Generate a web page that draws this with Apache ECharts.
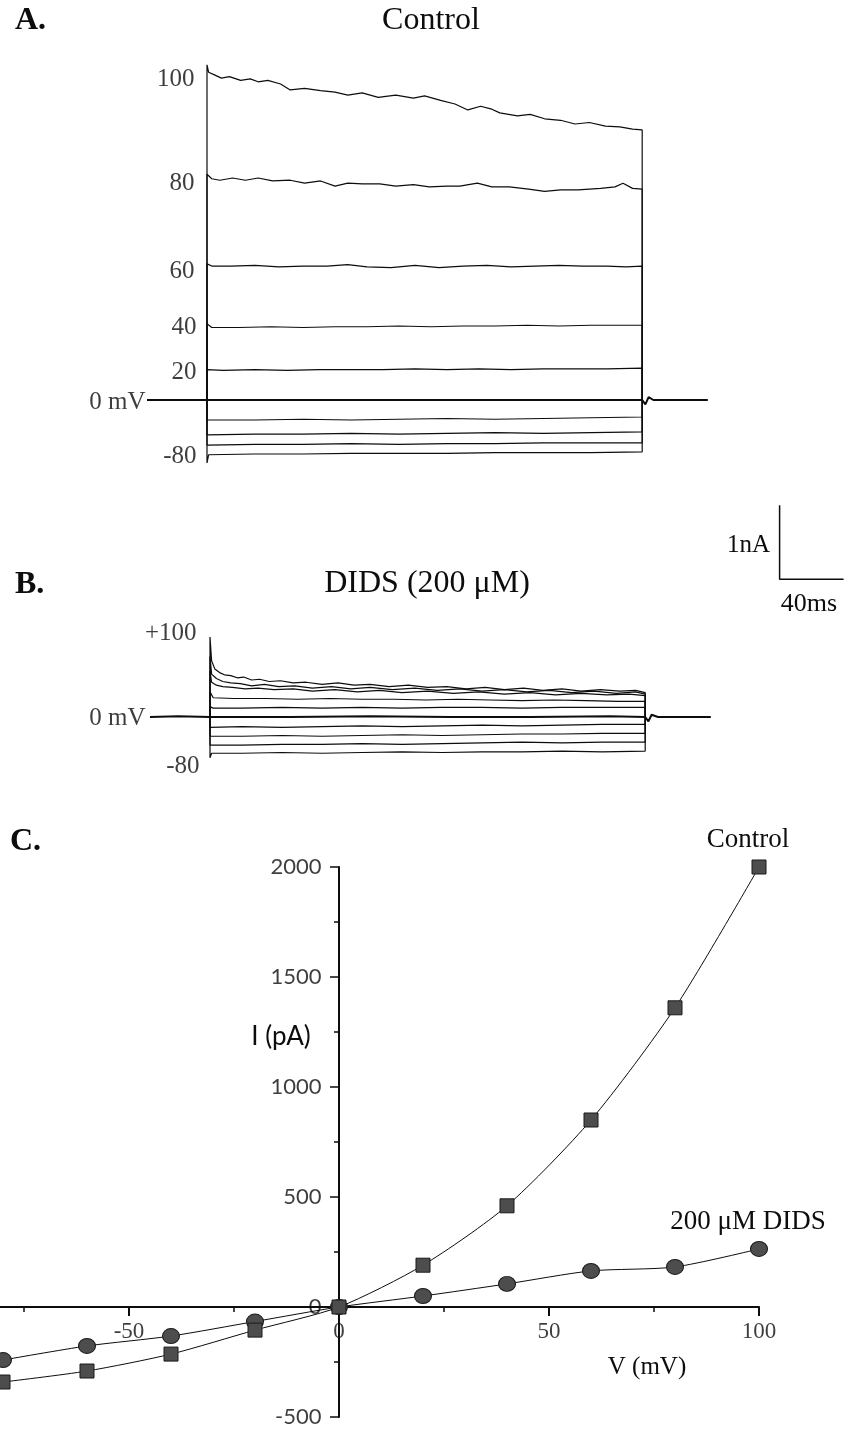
<!DOCTYPE html>
<html>
<head>
<meta charset="utf-8">
<script src="https://cdn.jsdelivr.net/npm/echarts@6/dist/echarts.min.js"></script>
<style>
  html, body { margin: 0; padding: 0; background: #fff; }
  #fig { width: 844px; height: 1431px; }
</style>
</head>
<body>
<div id="fig"></div>
<script>
// ---- Panel A: control currents, [time (ms), current (nA)] after the step onset ----
const stepOff = 272;            // end of the voltage step, ms
const ctrlP100 = [[0,4.53],[1,4.43],[5,4.39],[9,4.35],[14,4.37],[21,4.32],[27,4.34],[32,4.30],[38,4.32],[46,4.27],[52,4.19],[61,4.21],[71,4.18],[80,4.16],[88,4.12],[97,4.15],[107,4.09],[118,4.12],[129,4.08],[136,4.11],[146,4.05],[155,4.00],[163,3.92],[171,3.97],[178,3.93],[183,3.88],[194,3.84],[202,3.86],[211,3.80],[221,3.78],[230,3.73],[239,3.75],[249,3.70],[258,3.69],[266,3.66],[272,3.65]];
const ctrlP80 = [[0,3.05],[3,2.99],[8,2.97],[16,3.00],[24,2.97],[32,3.00],[41,2.96],[52,2.97],[61,2.93],[71,2.96],[80,2.89],[88,2.93],[97,2.92],[108,2.92],[118,2.89],[129,2.91],[139,2.88],[150,2.89],[158,2.89],[169,2.93],[178,2.88],[189,2.88],[201,2.85],[211,2.82],[221,2.84],[232,2.84],[246,2.86],[255,2.88],[260,2.93],[266,2.86],[272,2.85]];
const ctrlP60 = [[0,1.84],[3,1.81],[15,1.81],[30,1.82],[45,1.80],[60,1.81],[75,1.81],[88,1.83],[100,1.80],[115,1.79],[130,1.82],[145,1.79],[160,1.81],[175,1.82],[190,1.80],[205,1.81],[220,1.82],[235,1.81],[250,1.81],[262,1.80],[272,1.81]];
const ctrlP40 = [[0,1.03],[3,0.98],[20,0.98],[40,0.99],[60,0.98],[80,0.99],[100,0.99],[120,1.00],[140,0.99],[160,1.00],[180,1.00],[200,1.01],[220,1.00],[240,1.01],[260,1.01],[272,1.01]];
const ctrlP20 = [[0,0.41],[10,0.40],[30,0.41],[50,0.40],[70,0.41],[90,0.41],[110,0.41],[130,0.42],[150,0.41],[170,0.42],[190,0.41],[210,0.42],[230,0.42],[250,0.42],[272,0.43]];
const ctrlP0 = [[-37.5,0],[0,0],[60,0],[120,0],[180,0],[240,0],[272,0],[274,-0.06],[276,0.04],[279,0],[313,0]];
const ctrlM20 = [[0,-0.27],[30,-0.27],[60,-0.26],[90,-0.27],[120,-0.26],[150,-0.25],[180,-0.26],[210,-0.25],[240,-0.24],[272,-0.23]];
const ctrlM40 = [[0,-0.47],[30,-0.46],[60,-0.46],[90,-0.45],[120,-0.46],[150,-0.45],[180,-0.44],[210,-0.45],[240,-0.44],[272,-0.43]];
const ctrlM60 = [[0,-0.61],[30,-0.60],[60,-0.60],[90,-0.59],[120,-0.60],[150,-0.59],[180,-0.59],[210,-0.58],[240,-0.58],[272,-0.58]];
const ctrlM80 = [[0,-0.85],[1,-0.74],[30,-0.73],[60,-0.73],[90,-0.72],[120,-0.72],[150,-0.72],[180,-0.71],[210,-0.71],[240,-0.71],[272,-0.70]];

// ---- Panel B: currents with 200 µM DIDS ----
const didsP100 = [[0,1.08],[1,0.76],[3,0.65],[6,0.60],[9,0.57],[13,0.56],[17,0.53],[21,0.54],[26,0.50],[31,0.51],[37,0.48],[44,0.49],[52,0.46],[60,0.47],[70,0.44],[80,0.46],[90,0.43],[100,0.44],[112,0.41],[124,0.43],[136,0.40],[148,0.41],[160,0.38],[172,0.40],[184,0.37],[196,0.39],[208,0.36],[220,0.38],[232,0.35],[244,0.37],[256,0.35],[266,0.36],[272,0.33]];
const didsP80 = [[0,0.82],[1,0.58],[4,0.52],[8,0.48],[13,0.46],[19,0.45],[26,0.42],[34,0.44],[43,0.41],[53,0.42],[64,0.39],[76,0.41],[88,0.38],[100,0.40],[114,0.37],[128,0.39],[142,0.36],[156,0.38],[170,0.35],[184,0.37],[198,0.34],[212,0.36],[226,0.33],[240,0.35],[254,0.32],[266,0.34],[272,0.31]];
const didsP60 = [[0,0.62],[1,0.47],[4,0.43],[8,0.41],[14,0.40],[22,0.38],[30,0.39],[40,0.37],[52,0.38],[64,0.35],[78,0.37],[92,0.34],[106,0.36],[120,0.33],[136,0.35],[152,0.32],[168,0.34],[184,0.31],[200,0.33],[216,0.30],[232,0.32],[248,0.30],[262,0.31],[272,0.29]];
const didsP40 = [[0,0.34],[2,0.26],[15,0.25],[35,0.25],[55,0.24],[75,0.25],[95,0.24],[115,0.24],[135,0.23],[155,0.24],[175,0.23],[195,0.22],[215,0.23],[235,0.22],[255,0.21],[272,0.21]];
const didsP20 = [[0,0.14],[2,0.12],[20,0.12],[45,0.13],[70,0.12],[95,0.13],[120,0.12],[145,0.13],[170,0.13],[195,0.12],[220,0.13],[245,0.13],[272,0.13]];
const didsP0 = [[-37.5,0],[-20,0.01],[0,0],[50,0],[100,0.01],[150,0],[200,0],[250,0.01],[272,0],[274,-0.06],[276,0.03],[280,0],[313,0]];
const didsM20 = [[0,-0.14],[20,-0.13],[45,-0.14],[70,-0.13],[95,-0.12],[120,-0.13],[145,-0.12],[170,-0.11],[195,-0.12],[220,-0.11],[245,-0.10],[272,-0.10]];
const didsM40 = [[0,-0.26],[20,-0.26],[45,-0.25],[70,-0.26],[95,-0.25],[120,-0.24],[145,-0.25],[170,-0.24],[195,-0.23],[220,-0.23],[245,-0.22],[272,-0.22]];
const didsM60 = [[0,-0.38],[20,-0.38],[45,-0.37],[70,-0.37],[95,-0.36],[120,-0.37],[145,-0.36],[170,-0.35],[195,-0.34],[220,-0.35],[245,-0.34],[272,-0.34]];
const didsM80 = [[0,-0.55],[1,-0.49],[20,-0.49],[45,-0.48],[70,-0.49],[95,-0.48],[120,-0.47],[145,-0.48],[170,-0.47],[195,-0.47],[220,-0.46],[245,-0.47],[272,-0.46]];

// Scale bar: 1 nA by 40 ms, corner placed at [356 ms, 1.86 nA] of panel B
const scaleCurrent = 1;
const scaleTime = 40;
const barCorner = [356, 1.86];

// ---- Panel C: current–voltage relation ----
const ivVoltage = [-80, -60, -40, -20, 0, 20, 40, 60, 80, 100];
const ivControl = [-341, -291, -214, -105, 0, 190, 460, 850, 1360, 2000];
const ivDids = [-241, -177, -132, -66, 0, 50, 105, 164, 182, 264];
const vTicks = [-50, 0, 50, 100];
const iTicks = [-500, 0, 500, 1000, 1500, 2000];

const SERIF = "'Liberation Serif','Times New Roman',serif";
const SANS = "Lato, 'Noto Sans', sans-serif";
const INK = '#0d0d0d';

const chart = echarts.init(document.getElementById('fig'), null, { renderer: 'canvas' });

function traceSeries(pts, gridIdx, isBaseline) {
  const data = isBaseline ? pts : [[0, 0]].concat(pts, [[stepOff, 0]]);
  return {
    type: 'line', xAxisIndex: gridIdx, yAxisIndex: gridIdx,
    data: data, showSymbol: false, symbol: 'none', silent: true,
    animation: false, clip: false,
    lineStyle: { color: INK, width: isBaseline ? 2 : 1.2 }
  };
}

// Text anchored to data points (step voltages, tick values)
function pointLabels(gridIdx, items, font, size, position) {
  return {
    type: 'scatter', xAxisIndex: gridIdx, yAxisIndex: gridIdx, silent: true,
    animation: false, symbol: 'circle', symbolSize: 1, clip: false,
    itemStyle: { color: 'rgba(0,0,0,0)' },
    data: items.map(it => ({
      value: it.at,
      label: {
        show: true, formatter: it.text, position: position, distance: it.gap,
        offset: [it.dx || 0, it.dy || 0], color: INK, fontFamily: font, fontSize: size
      }
    }))
  };
}

const series = [];
[ctrlP100, ctrlP80, ctrlP60, ctrlP40, ctrlP20, ctrlM20, ctrlM40, ctrlM60, ctrlM80]
  .forEach(p => series.push(traceSeries(p, 0, false)));
series.push(traceSeries(ctrlP0, 0, true));
series.push(pointLabels(0, [
  { text: '100', at: ctrlP100[0], gap: 12, dy: 15 },
  { text: '80', at: ctrlP80[0], gap: 12, dy: 9 },
  { text: '60', at: ctrlP60[0], gap: 12, dy: 8 },
  { text: '40', at: ctrlP40[0], gap: 10, dy: 4 },
  { text: '20', at: ctrlP20[0], gap: 10, dy: 3 },
  { text: '0 mV', at: ctrlP0[0], gap: 1, dy: 2 },
  { text: '-80', at: ctrlM80[0], gap: 10, dy: -6 }
], SERIF, 25, 'left'));

[didsP100, didsP80, didsP60, didsP40, didsP20, didsM20, didsM40, didsM60, didsM80]
  .forEach(p => series.push(traceSeries(p, 1, false)));
series.push(traceSeries(didsP0, 1, true));
series.push(pointLabels(1, [
  { text: '+100', at: didsP100[0], gap: 13, dy: -4 },
  { text: '0 mV', at: didsP0[0], gap: 4, dy: 1 },
  { text: '-80', at: didsM80[0], gap: 10, dy: 9 }
], SERIF, 25, 'left'));

// scale bar in panel B's own units
series.push({
  type: 'line', xAxisIndex: 1, yAxisIndex: 1, silent: true, animation: false,
  clip: false, showSymbol: false, symbol: 'none',
  lineStyle: { color: INK, width: 1.5 },
  data: [[barCorner[0], barCorner[1] + scaleCurrent], barCorner,
         [barCorner[0] + scaleTime, barCorner[1]]]
});

function ivSeries(values, name, symbol, size) {
  const data = ivVoltage.map((v, i) => [v, values[i]]);
  const last = data.length - 1;
  data[last] = {
    value: data[last],
    label: {
      show: true, formatter: name, position: 'top', distance: 6,
      offset: [-11, 0], color: INK, fontFamily: SERIF, fontSize: 27
    }
  };
  return {
    type: 'line', xAxisIndex: 2, yAxisIndex: 2, name: name, data: data,
    smooth: 0.25, symbol: symbol, symbolSize: size, showSymbol: true,
    animation: false, clip: false, silent: true,
    lineStyle: { color: INK, width: 1 },
    itemStyle: { color: '#4d4d4d', borderColor: '#1a1a1a', borderWidth: 1 }
  };
}
series.push(ivSeries(ivDids, '200 \u03bcM DIDS', 'circle', [17, 15]));
series.push(ivSeries(ivControl, 'Control', 'rect', 14));

// tick labels of the I–V axes
series.push(pointLabels(2, vTicks.map(v => ({ text: String(v), at: [v, 0], gap: 13 })),
  SERIF, 23, 'bottom'));
series.push(pointLabels(2, iTicks.map(v => ({ text: String(v), at: [0, v], gap: 17 })),
  SANS, 22, 'left'));

const hiddenAxis = (min, max) => ({ type: 'value', min: min, max: max, show: false });

const option = {
  backgroundColor: '#fff',
  animation: false,
  grid: [
    { left: 147, top: 52.2, width: 560.8, height: 414.4, outerBoundsMode: 'none' },
    { left: 150, top: 495, width: 700, height: 281.2, outerBoundsMode: 'none' },
    { left: -81, top: 867, width: 840, height: 550, outerBoundsMode: 'none' }
  ],
  xAxis: [
    Object.assign(hiddenAxis(-37.5, 313), { gridIndex: 0 }),
    Object.assign(hiddenAxis(-37.5, 400), { gridIndex: 1 }),
    {
      gridIndex: 2, type: 'value', min: -100, max: 100, interval: 50,
      axisLine: { onZero: true, lineStyle: { color: INK, width: 2 } },
      axisTick: { show: true, length: 9, lineStyle: { color: INK, width: 2 } },
      minorTick: { show: true, splitNumber: 2, length: 5, lineStyle: { color: INK, width: 1.5 } },
      splitLine: { show: false },
      axisLabel: { show: false }
    }
  ],
  yAxis: [
    Object.assign(hiddenAxis(-0.9, 4.7), { gridIndex: 0 }),
    Object.assign(hiddenAxis(-0.8, 3.0), { gridIndex: 1 }),
    {
      gridIndex: 2, type: 'value', min: -500, max: 2000, interval: 500,
      axisLine: { show: true, onZero: true, lineStyle: { color: INK, width: 2 } },
      axisTick: { show: true, length: 9, lineStyle: { color: INK, width: 1.5 } },
      minorTick: { show: true, splitNumber: 2, length: 5, lineStyle: { color: INK, width: 1.5 } },
      splitLine: { show: false },
      axisLabel: { show: false }
    }
  ],
  series: series,
  graphic: [
    { type: 'text', x: 15, y: 21, style: { text: 'A.', fill: INK, font: 'bold 32px ' + SERIF, verticalAlign: 'middle', align: 'left' } },
    { type: 'text', x: 431, y: 21, style: { text: 'Control', fill: INK, font: '32px ' + SERIF, verticalAlign: 'middle', align: 'center' } },
    { type: 'text', x: 15, y: 585, style: { text: 'B.', fill: INK, font: 'bold 32px ' + SERIF, verticalAlign: 'middle', align: 'left' } },
    { type: 'text', x: 427, y: 584, style: { text: 'DIDS (200 \u03bcM)', fill: INK, font: '32px ' + SERIF, verticalAlign: 'middle', align: 'center' } },
    { type: 'text', x: 770, y: 545, style: { text: '1nA', fill: INK, font: '25px ' + SERIF, verticalAlign: 'middle', align: 'right' } },
    { type: 'text', x: 809, y: 604, style: { text: '40ms', fill: INK, font: '26px ' + SERIF, verticalAlign: 'middle', align: 'center' } },
    { type: 'text', x: 10, y: 842, style: { text: 'C.', fill: INK, font: 'bold 32px ' + SERIF, verticalAlign: 'middle', align: 'left' } },
    { type: 'text', x: 281, y: 1037, style: { text: 'I (pA)', fill: INK, font: '26px ' + SANS, verticalAlign: 'middle', align: 'center' } },
    { type: 'text', x: 647, y: 1367, style: { text: 'V (mV)', fill: INK, font: '25px ' + SERIF, verticalAlign: 'middle', align: 'center' } }
  ]
};

chart.setOption(option);
</script>
</body>
</html>
